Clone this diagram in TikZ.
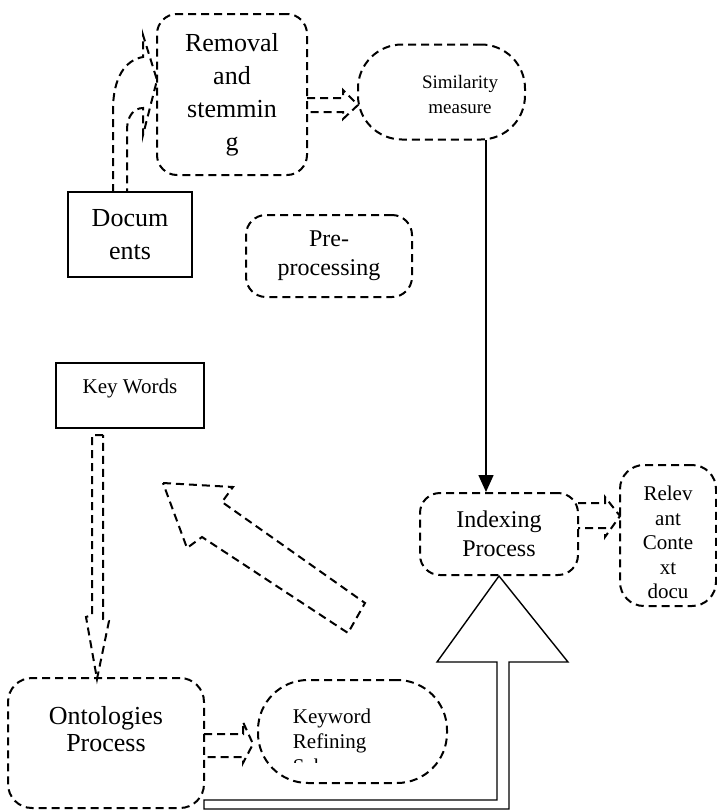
\documentclass[tikz,border=0pt]{standalone}
\usepackage{fontspec}
\setmainfont{Liberation Serif}
\usetikzlibrary{arrows.meta}
\tikzset{
  dbox/.style={draw, line width=1pt, dash pattern=on 4pt off 2.5pt, rounded corners=#1, inner sep=0pt},
  dbox/.default=10pt,
  sbox/.style={draw, line width=0.8pt, inner sep=0pt},
  darrow/.style={line width=1pt, dash pattern=on 4pt off 2.5pt},
  big/.style={font=\fontsize{13}{16.5}\selectfont, align=center, inner sep=0pt},
  mid/.style={font=\fontsize{12}{14.5}\selectfont, align=center, inner sep=0pt},
  small/.style={font=\fontsize{10.5}{12.3}\selectfont, align=center, inner sep=0pt},
}
\begin{document}
\begin{tikzpicture}[x=0.5pt,y=-0.5pt]
\useasboundingbox (0,0) rectangle (717,810);
% boxes
\node[dbox, minimum width=75pt, minimum height=80.5pt, big] (rem) at (232,94.5) {Removal\\and\\stemmin\\g};
\node[sbox, minimum width=62pt, minimum height=42.5pt, big] (doc) at (130,234.5) {Docum\\ents};
\node[dbox, minimum width=83pt, minimum height=41pt, mid] (pre) at (329,256) {Pre-\\processing};
\node[dbox=22pt, minimum width=83.5pt, minimum height=47.5pt] (sim) at (441.5,92) {};
\node[small, font=\fontsize{9.5}{12.5}\selectfont] (simtxt) at (460,94) {Similarity\\measure};
\node[sbox, minimum width=74pt, minimum height=32.5pt] (kw) at (130,395.5) {};
\node[small] (kwtxt) at (130,388) {Key Words};
\node[dbox, minimum width=79pt, minimum height=41pt, mid] (idx) at (499,534) {Indexing\\Process};
\node[dbox=12pt, minimum width=48pt, minimum height=70.5pt] (rel) at (668,535.5) {};
\scope % text cut off by its frame
\clip (620,465) rectangle (717,598);
\node[small] (reltxt) at (668,542.5) {Relev\\ant\\Conte\\xt\\docu};
\endscope
\node[dbox=12pt, minimum width=98pt, minimum height=65pt] (ont) at (106,743) {};
\node[big, font=\fontsize{13}{13.8}\selectfont] (onttxt) at (106,729) {Ontologies\\Process};
\node[dbox=25pt, minimum width=94.5pt, minimum height=51.5pt] (kref) at (352.5,731.5) {};
\scope
\clip (258,680) rectangle (447,762);
\node[small, align=left, font=\fontsize{10.5}{12.5}\selectfont] (kreftxt) at (332,741) {Keyword\\Refining\\Scheme};
\endscope
% block arrows
\draw[darrow] (113,192) -- (113,110) .. controls (113,78) and (125,60) .. (143,57) -- (143,35) -- (157,80)
  -- (143,135) -- (143,108) .. controls (134,108) and (127,116) .. (127,130) -- (127,192);
\draw[darrow] (307,98) -- (343,98) -- (343,90) -- (358,105) -- (343,119) -- (343,112) -- (307,112);
\draw[darrow] (578,503) -- (605,503) -- (605,497) -- (620,516) -- (605,537) -- (605,528) -- (578,528);
\draw[darrow] (103,435) -- (92,435) -- (92,615) -- (86,617) -- (97,679) -- (109,621) -- (103,619) -- cycle;
\draw[darrow] (204,734) -- (243,734) -- (243,722) -- (253,744) -- (243,763) -- (243,757) -- (204,757);
\draw[darrow] (163,483) -- (233,487) -- (222,502) -- (365,603) -- (348,633) -- (202,537) -- (187,548) -- cycle;
% similarity to indexing
\coordinate (s1) at (486,140);
\draw[line width=0.8pt, -{Triangle[width=7.5pt,length=8.5pt]}] (s1) -- (s1 |- idx.north);
% outline arrow into indexing
\draw[line width=0.7pt] (204,800) -- (497,800) -- (497,662) -- (437,662) -- (idx.south) -- (568,662)
  -- (509,662) -- (509,809) -- (204,809) -- cycle;
\end{tikzpicture}
\end{document}
